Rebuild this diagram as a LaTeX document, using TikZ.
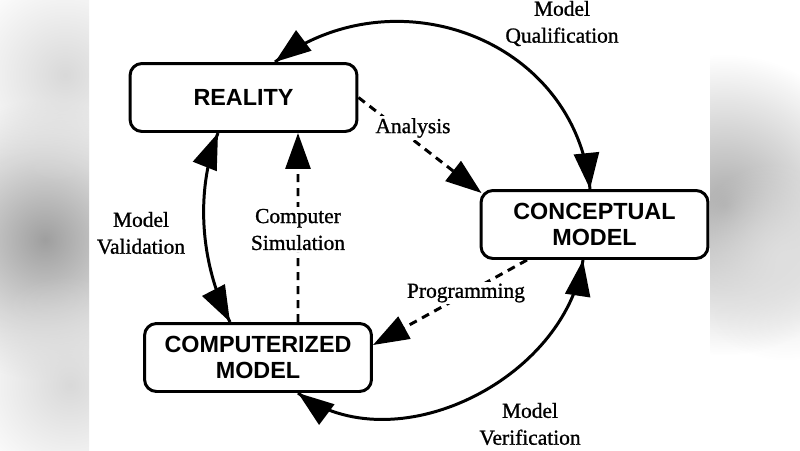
\documentclass[tikz,border=0pt]{standalone}
\usepackage{fontspec}
\setmainfont{Liberation Serif}[FakeBold=1]
\setsansfont{Liberation Sans}
\usetikzlibrary{arrows.meta, fadings, decorations.markings}
\tikzfading[name=soft blob, inner color=transparent!0, outer color=transparent!100]

\begin{document}
\begin{tikzpicture}[x=0.02cm, y=-0.02cm, >={Triangle[length=0.72cm, width=0.5cm]},
	stage/.style={draw, line width=1.7pt, rounded corners=0.24cm, minimum width=4.54cm,
		minimum height=1.36cm, inner sep=0pt, align=center,
		font=\sffamily\bfseries\fontsize{13.3}{15.3}\selectfont},
	lbl/.style={align=center, inner sep=1pt,
		font=\fontsize{12.2}{15.3}\selectfont},
	cut/.style={fill=white},
	blob/.style={path fading=soft blob, fit fading=true},
	solid flow/.style={line width=1.7pt, postaction={decorate},
		decoration={markings, mark=at position 0 with {\arrowreversed{>}},
			mark=at position 0.9999 with {\arrow{>}}}},
	dash flow/.style={line width=1.7pt, dash pattern=on 0.16cm off 0.12cm, ->}]

	\useasboundingbox (0,0) rectangle (800,450);

	% page and blurred side strips
	\fill[white] (0,0) rectangle (800,450);
	\begin{scope}
		\clip (0,0) rectangle (89,450);
		\fill[gray!75, blob] (45,240) circle (140);
		\fill[gray!30, blob] (65,75) circle (110);
		\fill[gray!30, blob] (70,385) circle (110);
	\end{scope}
	\begin{scope}
		\clip (710,0) rectangle (800,450);
		\fill[gray!65, blob] (725,205) circle (150);
		\fill[gray!25, blob] (785,260) circle (100);
	\end{scope}

	% stages
	\node[stage] (real) at (243.5,97.5) {REALITY};
	\node[stage] (concept) at (594.5,224.5) {CONCEPTUAL\\MODEL};
	\node[stage] (comp) at (258,357.5) {COMPUTERIZED\\MODEL};

	% solid arcs
	\draw[solid flow] ([xshift=-0.09cm]concept.north) .. controls +(-15,-150) and +(120,-90) .. ([xshift=0.63cm]real.north);
	\draw[solid flow] ([xshift=-0.23cm]concept.south) .. controls +(-18,120) and +(96,72) .. ([xshift=0.8cm]comp.south);
	\draw[solid flow] ([xshift=-0.51cm]real.south) .. controls +(-23,58) and +(-30,-58) .. ([xshift=-0.56cm]comp.north);

	% dashed links
	\draw[dash flow] (real.east) -- ([xshift=0.04cm,yshift=-0.08cm]concept.north west);
	\draw[dash flow] ([xshift=-1.35cm]concept.south) -- ([yshift=0.25cm]comp.east);
	\draw[dash flow] ([xshift=0.8cm]comp.north) -- ([xshift=1.09cm]real.south);

	% labels
	\node[lbl] (qual) at (562,23.5) {Model\\Qualification};
	\node[lbl, cut] (anal) at (413,128) {Analysis};
	\node[lbl] (valid) at (141,233) {Model\\Validation};
	\node[lbl, cut] (simul) at (298,229.5) {Computer\\Simulation};
	\node[lbl, cut] (prog) at (466,293) {Programming};
	\node[lbl] (verif) at (530,424) {Model\\Verification};

\end{tikzpicture}
\end{document}
